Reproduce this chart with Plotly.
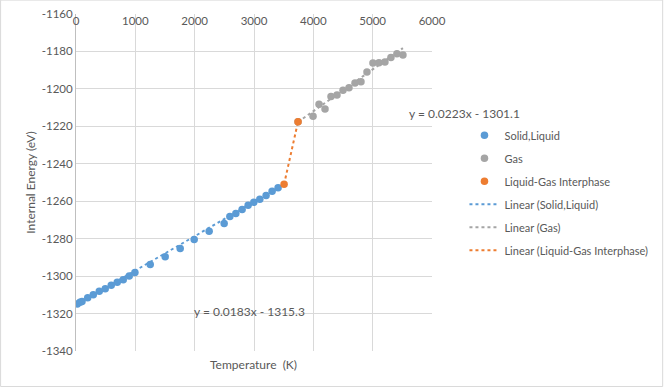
import plotly.graph_objects as go
import numpy as np

# Data
solid_T = [22, 67, 101, 197, 291, 392, 493, 594, 695, 796, 897, 993, 1251, 1503, 1756, 1992,
           2244, 2497, 2593, 2694, 2800, 2901, 2997, 3098, 3204, 3305, 3406]
solid_E = [-1314.9, -1314.0, -1313.5, -1311.5, -1309.9, -1308.1, -1306.7, -1304.9, -1303.3,
           -1301.9, -1299.9, -1298.1, -1293.8, -1289.6, -1285.3, -1280.5, -1276.0, -1271.9,
           -1268.1, -1266.5, -1264.4, -1262.1, -1260.6, -1259.0, -1256.9, -1254.7, -1252.8]

gas_T = [3742, 3995, 4096, 4197, 4298, 4399, 4500, 4601, 4702, 4803, 4904, 5005, 5106, 5207,
         5308, 5409, 5510]
gas_E = [-1217.5, -1214.6, -1208.2, -1210.8, -1204.1, -1203.3, -1200.7, -1199.4, -1196.9,
         -1196.2, -1191.0, -1186.2, -1186.0, -1185.7, -1183.2, -1181.2, -1181.9]

inter_T = [3507, 3742]
inter_E = [-1251.0, -1217.5]

# Trendline coefficients as displayed
solid_fit = (0.0183, -1315.3)
gas_fit = (0.0223, -1301.1)

x_ticks = [0, 1000, 2000, 3000, 4000, 5000, 6000]
x_tick_labels = ["0", "1000", "2000", "3000", "4000", "5000", "6000"]
y_ticks = [-1160, -1180, -1200, -1220, -1240, -1260, -1280, -1300, -1320, -1340]
y_tick_labels = ["-1160", "-1180", "-1200", "-1220", "-1240", "-1260", "-1280", "-1300",
                 "-1320", "-1340"]

BLUE = "#5b9bd5"
GRAY = "#a5a5a5"
ORANGE = "#ed7d31"
TXT = "#595959"
FONT = "Lato"

W, H = 664, 387
ml, mr, mt, mb = 76, 231.5, 14.4, 36
pw, ph = W - ml - mr, H - mt - mb

fig = go.Figure()

def line_pts(xs, coef):
    xa = np.array([min(xs), max(xs)], dtype=float)
    return xa, coef[0] * xa + coef[1]

msize = 7.5
sx, sy = line_pts(solid_T, solid_fit)
gx, gy = line_pts(gas_T, gas_fit)
fig.add_trace(go.Scatter(x=sx, y=sy, mode="lines", name="Linear (Solid,Liquid)",
                         line=dict(color=BLUE, width=2, dash="dot"), legendgroup="d", legendrank=4))
fig.add_trace(go.Scatter(x=gx, y=gy, mode="lines", name="Linear (Gas)",
                         line=dict(color=GRAY, width=2, dash="dot"), legendgroup="e", legendrank=5))
fig.add_trace(go.Scatter(x=inter_T, y=inter_E, mode="lines", name="Linear (Liquid-Gas Interphase)",
                         line=dict(color=ORANGE, width=2, dash="dot"), legendgroup="f", legendrank=6))

fig.add_trace(go.Scatter(x=solid_T, y=solid_E, mode="markers", name="Solid,Liquid",
                         marker=dict(color=BLUE, size=msize), legendgroup="a", legendrank=1))
fig.add_trace(go.Scatter(x=gas_T, y=gas_E, mode="markers", name="Gas",
                         marker=dict(color=GRAY, size=msize), legendgroup="b", legendrank=2))
fig.add_trace(go.Scatter(x=inter_T, y=inter_E, mode="markers", name="Liquid-Gas Interphase",
                         marker=dict(color=ORANGE, size=msize), legendgroup="c", legendrank=3))

fig.update_layout(
    width=W, height=H,
    margin=dict(l=ml, r=mr, t=mt, b=mb, autoexpand=False),
    paper_bgcolor="white", plot_bgcolor="white",
    font=dict(family=FONT, size=12, color=TXT),
    xaxis=dict(range=[0, 6000], tickvals=x_ticks, ticktext=x_tick_labels, side="top",
               ticklabelposition="inside", ticklabeloverflow="allow",
               showgrid=True, gridcolor="#d9d9d9", gridwidth=1, zeroline=False,
               showline=False, ticks="", tickfont=dict(size=11.5, color=TXT)),
    yaxis=dict(range=[-1340, -1160], tickvals=y_ticks, ticktext=y_tick_labels,
               ticklabeloverflow="allow", showgrid=True, gridcolor="#d9d9d9",
               gridwidth=1, zeroline=False, showline=True, linecolor="#bfbfbf", ticks="",
               tickfont=dict(size=11.5, color=TXT),
               title=dict(text="Internal Energy (eV)", font=dict(size=12, color=TXT), standoff=3)),
    legend=dict(x=(465 - ml) / pw, y=1 - (121 - mt) / ph, xanchor="left", yanchor="top",
                traceorder="grouped", tracegroupgap=4, font=dict(size=11, color=TXT),
                bgcolor="rgba(0,0,0,0)"),
    showlegend=True,
)

fig.add_annotation(text="Temperature  (K)", xref="paper", yref="paper",
                   x=(254 - ml) / pw, y=1 - (364 - mt) / ph, showarrow=False,
                   xanchor="center", yanchor="middle", font=dict(size=12, color=TXT))
fig.add_annotation(text="y = 0.0223x - 1301.1", xref="paper", yref="paper",
                   x=(407 - ml) / pw, y=1 - (114 - mt) / ph, xanchor="left", yanchor="middle",
                   showarrow=False, font=dict(size=12, color=TXT))
fig.add_annotation(text="y = 0.0183x - 1315.3", xref="paper", yref="paper",
                   x=(192 - ml) / pw, y=1 - (312 - mt) / ph, xanchor="left", yanchor="middle",
                   showarrow=False, font=dict(size=12, color=TXT))

# outer chart border
fig.add_shape(type="rect", xref="paper", yref="paper",
              x0=(0.5 - ml) / pw, x1=(W - 0.5 - ml) / pw,
              y0=1 - (H - 0.5 - mt) / ph, y1=1 - (0.5 - mt) / ph,
              line=dict(color="#d9d9d9", width=1), layer="below")

fig.write_html("out.html", config={"displayModeBar": False},
               post_script="document.body.style.margin='0';document.body.style.padding='0';")
